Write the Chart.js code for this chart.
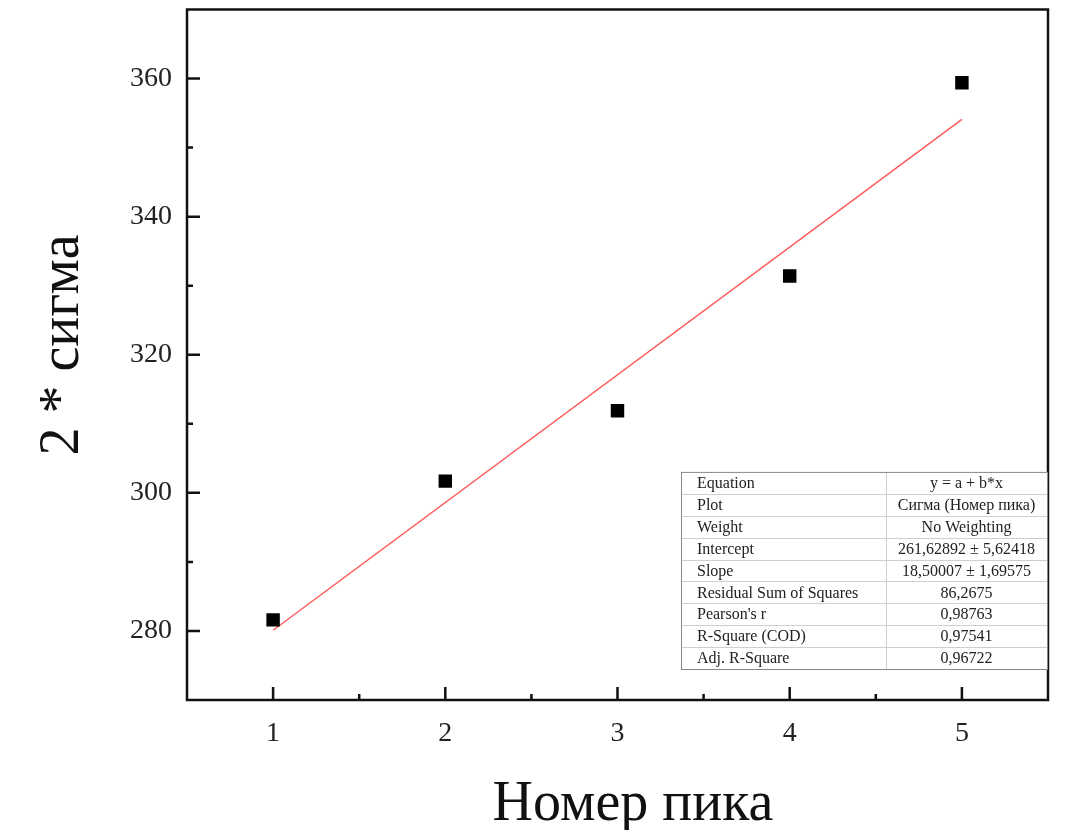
<!DOCTYPE html>
<html>
<head>
<meta charset="utf-8">
<script src="https://cdn.jsdelivr.net/npm/chart.js@4/dist/chart.umd.min.js"></script>
<style>
  body { margin: 0; background: #fff; }
  #wrap { width: 1068px; height: 830px; }
</style>
</head>
<body>
<div id="wrap"><canvas id="grafico"></canvas></div>
<script>
// dados
const peakNumbers = [1, 2, 3, 4, 5];
const sigma2 = [281.6, 301.7, 311.9, 331.4, 359.4];
const fitX = [1, 5];
const fitY = [280.1, 354.1];
const xTicks = [1, 2, 3, 4, 5];
const yTicks = [280, 300, 320, 340, 360];
const xMinor = [1.5, 2.5, 3.5, 4.5];
const yMinor = [290, 310, 330, 350];

// tabela do ajuste linear
const fitNames = ['Equation', 'Plot', 'Weight', 'Intercept', 'Slope',
  'Residual Sum of Squares', "Pearson's r", 'R-Square (COD)', 'Adj. R-Square'];
const fitValues = ['y = a + b*x', 'Сигма (Номер пика)', 'No Weighting',
  '261,62892 ± 5,62418', '18,50007 ± 1,69575', '86,2675', '0,98763', '0,97541', '0,96722'];

const xTitle = 'Номер пика';
const yTitle = '2 * сигма';

const serif = '"Liberation Serif", "DejaVu Serif", serif';

const frameAndTicks = {
  id: 'frameAndTicks',
  afterDatasetsDraw(chart) {
    const ctx = chart.ctx;
    const a = chart.chartArea;
    const xs = chart.scales.x, ys = chart.scales.y;
    ctx.save();
    ctx.strokeStyle = '#111';
    ctx.lineWidth = 2.5;
    ctx.strokeRect(a.left, a.top, a.right - a.left, a.bottom - a.top);
    ctx.beginPath();
    xTicks.forEach(v => { const p = xs.getPixelForValue(v); ctx.moveTo(p, a.bottom); ctx.lineTo(p, a.bottom - 13); });
    xMinor.forEach(v => { const p = xs.getPixelForValue(v); ctx.moveTo(p, a.bottom); ctx.lineTo(p, a.bottom - 6); });
    yTicks.forEach(v => { const p = ys.getPixelForValue(v); ctx.moveTo(a.left, p); ctx.lineTo(a.left + 13, p); });
    yMinor.forEach(v => { const p = ys.getPixelForValue(v); ctx.moveTo(a.left, p); ctx.lineTo(a.left + 6, p); });
    ctx.stroke();

    // títulos dos eixos
    ctx.fillStyle = '#111';
    ctx.font = '56px ' + serif;
    ctx.textAlign = 'center';
    ctx.textBaseline = 'alphabetic';
    ctx.fillText(xTitle, 633, 820);
    ctx.save();
    ctx.translate(78, 345);
    ctx.rotate(-Math.PI / 2);
    ctx.fillText(yTitle, 0, 0);
    ctx.restore();

    // tabela
    const right = a.right - 1, left = right - 366;
    const bottom = a.bottom - 31, rowH = 21.9;
    const top = bottom - rowH * fitNames.length;
    const split = left + 205;
    ctx.fillStyle = '#fff';
    ctx.fillRect(left, top, right - left, bottom - top);
    ctx.strokeStyle = '#cfcfcf';
    ctx.lineWidth = 1;
    ctx.beginPath();
    for (let i = 1; i < fitNames.length; i++) {
      const yy = Math.round(top + i * rowH) + 0.5;
      ctx.moveTo(left, yy); ctx.lineTo(right, yy);
    }
    ctx.moveTo(split + 0.5, top); ctx.lineTo(split + 0.5, bottom);
    ctx.stroke();
    ctx.strokeStyle = '#888';
    ctx.strokeRect(left + 0.5, top + 0.5, right - left, bottom - top);
    ctx.fillStyle = '#222';
    ctx.font = '16px ' + serif;
    ctx.textBaseline = 'middle';
    fitNames.forEach((n, i) => {
      const yy = top + (i + 0.5) * rowH + 1;
      ctx.textAlign = 'left';
      ctx.fillText(n, left + 16, yy);
      ctx.textAlign = 'center';
      ctx.fillText(fitValues[i], (split + right) / 2, yy);
    });
    ctx.restore();
  }
};

new Chart(document.getElementById('grafico'), {
  type: 'scatter',
  data: {
    datasets: [
      {
        label: 'Сигма',
        data: peakNumbers.map((x, i) => ({ x: x, y: sigma2[i] })),
        pointStyle: 'rect',
        pointRadius: 9.5,
        pointHoverRadius: 9.5,
        backgroundColor: '#000',
        borderColor: '#000',
        borderWidth: 0
      },
      {
        label: 'Ajuste',
        type: 'line',
        data: fitX.map((x, i) => ({ x: x, y: fitY[i] })),
        borderColor: 'rgb(255, 90, 90)',
        borderWidth: 1.5,
        pointRadius: 0,
        fill: false
      }
    ]
  },
  options: {
    responsive: true,
    maintainAspectRatio: false,
    animation: false,
    layout: { padding: { top: 8, right: 20, left: 0, bottom: 0 } },
    plugins: { legend: { display: false }, tooltip: { enabled: false } },
    scales: {
      x: {
        type: 'linear',
        min: 0.5,
        max: 5.5,
        afterBuildTicks: s => { s.ticks = xTicks.map(v => ({ value: v })); },
        afterFit: s => { s.height = 130; s.paddingLeft = 0; s.paddingRight = 0; },
        grid: { display: false, drawTicks: false },
        border: { display: false },
        ticks: { padding: 17, color: '#222', font: { family: serif, size: 28 } }
      },
      y: {
        type: 'linear',
        min: 270,
        max: 370,
        afterBuildTicks: s => { s.ticks = yTicks.map(v => ({ value: v })); },
        afterFit: s => { s.width = 187; s.paddingTop = 0; s.paddingBottom = 0; },
        grid: { display: false, drawTicks: false },
        border: { display: false },
        ticks: { padding: 15, color: '#222', font: { family: serif, size: 28 } }
      }
    }
  },
  plugins: [frameAndTicks]
});
</script>
</body>
</html>
